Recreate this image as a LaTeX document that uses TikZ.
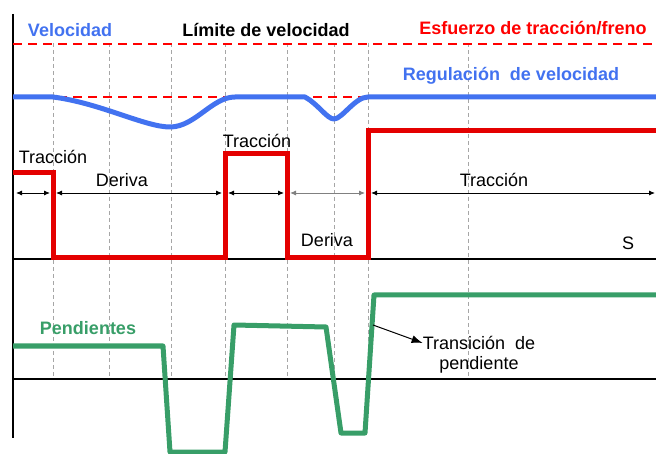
\documentclass[tikz,border=0pt]{standalone}
\usepackage{fontspec}
\setmainfont{Liberation Sans}
\usetikzlibrary{arrows.meta}
\definecolor{velblue}{RGB}{66,114,240}
\definecolor{tracred}{RGB}{228,0,0}
\definecolor{limred}{RGB}{255,0,0}
\definecolor{slopegreen}{RGB}{56,158,104}

\begin{document}
\begin{tikzpicture}[x=1pt, y=-1pt,
    every node/.style={inner sep=0pt, font=\fontsize{18}{22}\selectfont},
    title/.style={font=\fontsize{18}{22}\selectfont\bfseries},
    gridline/.style={gray!70, line width=0.8pt, dash pattern=on 4pt off 3pt},
    axisline/.style={black, line width=1.6pt},
    limline/.style={limred, line width=1.8pt, dash pattern=on 9pt off 6pt},
    dimarrow/.style={line width=0.9pt, shorten >=3pt, shorten <=3pt,
        {Latex[length=6pt,width=5pt]}-{Latex[length=6pt,width=5pt]}},
    curve/.style={line width=5pt, line join=round}]
    \useasboundingbox (0,0) rectangle (656,454);
    % rejilla de cambios de regimen
    \foreach \x in {53,109,171,225,287,334,368,468} {
        \draw[gridline] (\x,43) -- (\x,379);
    }
    % ejes
    \draw[axisline] (13,14) -- (13,438);
    \draw[axisline] (13,259) -- (656,259);
    \draw[axisline] (13,379) -- (656,379);
    % limite y velocidad
    \draw[limline] (13,44) -- (656,44);
    \draw[limline] (13,97) -- (368,97);
    \draw[curve, velblue] (13,97) -- (53,97)
        .. controls (100,103) and (145,127) .. (170,127)
        .. controls (195,127) and (212,97) .. (235,97) -- (305,97)
        .. controls (318,104) and (327,119) .. (334,119)
        .. controls (342,119) and (355,97) .. (368,97) -- (656,97);
    % esfuerzo de traccion/freno
    \draw[curve, tracred, line join=miter] (13,173) -- (53,173) -- (53,258) -- (225,258) -- (225,154)
        -- (287,154) -- (287,258) -- (368,258) -- (368,131) -- (656,131);
    % pendientes
    \draw[curve, slopegreen] (13,346) -- (163,346) -- (170,452) -- (225,452) -- (234,325)
        -- (326,327) -- (341,433) -- (365,433) -- (374,295) -- (656,295);
    % cotas
    \foreach \x [count=\i from 0] in {13,53,225,287,368,658} {
        \coordinate (d\i) at (\x,193);
    }
    \draw[dimarrow] (d0) -- (d1);
    \draw[dimarrow] (d1) -- (d2);
    \draw[dimarrow] (d2) -- (d3);
    \draw[dimarrow, gray] (d3) -- (d4);
    \draw[dimarrow] (d4) -- (d5);
    % textos
    \node[title, velblue] (vel) at (70,30) {Velocidad};
    \node[title] (lim) at (266,30) {Límite de velocidad};
    \node[title, limred] (esf) at (533,28) {Esfuerzo de tracción/freno};
    \node[title, velblue] (reg) at (511,76) {Regulación\ \ de velocidad};
    \node (trac1) at (53,157) {Tracción};
    \node (der1) at (122,180) {Deriva};
    \node (trac2) at (257,141) {Tracción};
    \node (der2) at (327,240) {Deriva};
    \node (trac3) at (494,180) {Tracción};
    \node (s) at (628,243) {S};
    \node[title, slopegreen] (pend) at (88,328) {Pendientes};
    \node (trans) at (479,343) {Transición\ \ de};
    \node (trans2) at (479,365) {pendiente};
    \coordinate (tp) at (373,325);
    \draw[line width=1pt, -{Latex[length=11pt,width=8pt]}] (tp) -- (trans.west);
\end{tikzpicture}
\end{document}
